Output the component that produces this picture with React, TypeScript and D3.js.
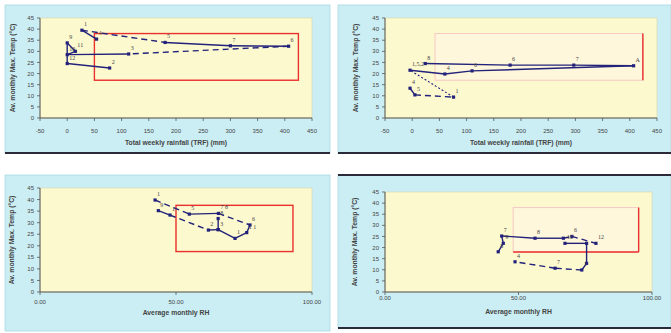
import React from "react";
import * as d3 from "d3";

// ---- data ----
const P1_X = [54, 27, 180, 300, 407, 113, 0, 15, 0, 0, 78];
const P1_Y = [35.5, 39.5, 34, 32.5, 32.3, 28.8, 28.5, 30, 33.8, 24.5, 22.5];
const P1_L = ["4", "1", "5", "7", "6", "3", "10", "11", "9", "12", "2"];
const P1_D = [0, 1, 0, 0, 1, 0, 0, 0, 0, 0];

const P2_X = [-4, 5, 76, -4, 60, 110, 407, 297, 180, 24];
const P2_Y = [13.4, 10.4, 9.4, 21.5, 19.8, 21.2, 23.5, 23.8, 23.8, 24.5];
const P2_L = ["4", "5", "1", "1,5,2", "4", "6", "A", "7", "6", "8"];
const P2_D = [0, 1, 2, 0, 0, 0, 0, 0, 0];

const P3A_X = [42.3, 54.9, 65.6, 77.2, 76, 71.7, 65.5, 65.5];
const P3A_Y = [39.8, 33.7, 34, 29, 25.7, 23.2, 27, 31.8];
const P3A_L = ["1", "5", "7 8", "6", "1 1", "1", "3", "8"];
const P3A_D = [1, 0, 1, 0, 0, 0, 0];
const P3B_X = [43.5, 47.8, 61.9, 65.5];
const P3B_Y = [35.2, 33.3, 26.8, 27];
const P3B_L = ["9", "1", "2", ""];
const P3B_D = [0, 1, 0];

const P4A_X = [42.4, 44.3, 43.7, 56.2, 66.8, 70, 79];
const P4A_Y = [18.1, 21.9, 25.2, 24.2, 24.2, 25, 21.9];
const P4A_L = ["8", "9", "7", "8", "", "6", "12"];
const P4A_D = [0, 0, 0, 0, 1, 1];
const P4B_X = [67.4, 75.5, 75.5, 73.7, 63.7, 48.7];
const P4B_Y = [21.9, 21.9, 12.9, 9.9, 10.7, 13.6];
const P4B_L = ["10", "", "", "1", "7", "4"];
const P4B_D = [0, 0, 0, 1, 1];

const RAIN_TICKS = [-50, 0, 50, 100, 150, 200, 250, 300, 350, 400, 450];
const RH_TICKS = [0, 50, 100];
const TEMP_TICKS = [0, 5, 10, 15, 20, 25, 30, 35, 40, 45];

const BOX1 = [50, 425, 17, 38];
const BOX2 = [42, 424, 17, 38];
const BOX3 = [50, 93, 17.5, 37.5];
const BOX4 = [48, 95, 18, 38];

const Y_TITLE = "Av. monthly Max. Temp (°C)";
const X_TITLE_RAIN = "Total weekly rainfall (TRF) (mm)";
const X_TITLE_RH = "Average monthly RH";

type Series = { x: number[]; y: number[]; l: string[]; d: number[] };

const CYAN = "#cbeef4";
const PLOT = "#fdf9cf";
const LINE = "#22227a";
const RED = "#e8302c";
const TXT = "#444";

type PanelProps = {
  outer: { x: number; y: number; w: number; h: number };
  plot: { x: number; y: number; w: number; h: number };
  xDomain: [number, number];
  xTicks: number[];
  xFmt: (v: number) => string;
  series: Series[];
  box: number[];
  boxMode: "full" | "right" | "rightBottom";
  xTitle: string;
  tickDy: number;
  titleDy: number;
  yTitleX: number;
  topLine?: boolean;
  bottomLine?: boolean;
};

function Panel(p: PanelProps) {
  const xs = d3.scaleLinear().domain(p.xDomain).range([p.plot.x, p.plot.x + p.plot.w]);
  const ys = d3.scaleLinear().domain([0, 45]).range([p.plot.y + p.plot.h, p.plot.y]);
  const line = d3
    .line<[number, number]>()
    .x((d) => xs(d[0]))
    .y((d) => ys(d[1]));
  const [bx0, bx1, by0, by1] = p.box;
  const bl = xs(bx0), br = xs(bx1), bt = ys(by1), bb = ys(by0);
  const ycenter = p.plot.y + p.plot.h / 2;
  return (
    <g>
      <rect x={p.outer.x} y={p.outer.y} width={p.outer.w} height={p.outer.h} fill={CYAN} stroke="#a8d8e0" strokeWidth={0.8} />
      {p.topLine && <line x1={p.outer.x} x2={p.outer.x + p.outer.w} y1={p.outer.y} y2={p.outer.y} stroke="#2a2a3a" strokeWidth={2} />}
      {p.bottomLine && (
        <line x1={p.outer.x} x2={p.outer.x + p.outer.w} y1={p.outer.y + p.outer.h} y2={p.outer.y + p.outer.h} stroke="#2a2a3a" strokeWidth={2} />
      )}
      <rect x={p.plot.x} y={p.plot.y} width={p.plot.w} height={p.plot.h} fill={PLOT} stroke="#d8d4a8" strokeWidth={0.6} />
      <line x1={p.plot.x} x2={p.plot.x} y1={p.plot.y} y2={p.plot.y + p.plot.h} stroke="#555" strokeWidth={1} />
      <line x1={p.plot.x} x2={p.plot.x + p.plot.w} y1={p.plot.y + p.plot.h} y2={p.plot.y + p.plot.h} stroke="#555" strokeWidth={1} />
      {TEMP_TICKS.map((t) => (
        <g key={"y" + t}>
          <line x1={p.plot.x - 3} x2={p.plot.x} y1={ys(t)} y2={ys(t)} stroke="#555" strokeWidth={0.8} />
          <text x={p.plot.x - 6} y={ys(t)} dy="0.35em" textAnchor="end" fontSize={6} fill={TXT} fontFamily="Arial, Liberation Sans, sans-serif">
            {t}
          </text>
        </g>
      ))}
      {p.xTicks.map((t) => (
        <g key={"x" + t}>
          <line x1={xs(t)} x2={xs(t)} y1={p.plot.y + p.plot.h} y2={p.plot.y + p.plot.h + 3} stroke="#555" strokeWidth={0.8} />
          <text x={xs(t)} y={p.plot.y + p.plot.h + p.tickDy} textAnchor="middle" fontSize={6} fill={TXT} fontFamily="Arial, Liberation Sans, sans-serif">
            {p.xFmt(t)}
          </text>
        </g>
      ))}
      <text
        x={p.plot.x + p.plot.w / 2}
        y={p.plot.y + p.plot.h + p.titleDy}
        textAnchor="middle"
        fontSize={6.8}
        fontWeight="bold"
        fill={TXT}
        fontFamily="Arial, Liberation Sans, sans-serif"
      >
        {p.xTitle}
      </text>
      <text
        transform={`translate(${p.yTitleX},${ycenter}) rotate(-90)`}
        textAnchor="middle"
        dy="0.35em"
        fontSize={6.8}
        fontWeight="bold"
        fill={TXT}
        fontFamily="Arial, Liberation Sans, sans-serif"
      >
        {Y_TITLE}
      </text>
      {p.boxMode === "full" ? (
        <rect x={bl} y={bt} width={br - bl} height={bb - bt} fill="none" stroke={RED} strokeWidth={1.4} />
      ) : (
        <g>
          <rect x={bl} y={bt} width={br - bl} height={bb - bt} fill="#fff4f0" fillOpacity={0.35} stroke="#f6c8c4" strokeWidth={1} />
          <line x1={br} x2={br} y1={bt} y2={bb} stroke={RED} strokeWidth={1.4} />
          {p.boxMode === "rightBottom" && <line x1={bl} x2={br} y1={bb} y2={bb} stroke={RED} strokeWidth={1.4} />}
        </g>
      )}
      {p.series.map((s, si) => {
        const pts: [number, number][] = s.x.map((v, i) => [v, s.y[i]]);
        return (
          <g key={"s" + si}>
            {s.d.map((dash, i) => (
              <path
                key={"seg" + i}
                d={line([pts[i], pts[i + 1]]) || ""}
                fill="none"
                stroke={LINE}
                strokeWidth={dash === 2 ? 1.1 : 1.4}
                strokeDasharray={dash === 1 ? "6,4" : dash === 2 ? "2,2" : undefined}
              />
            ))}
            {pts.map((pt, i) => (
              <g key={"p" + i}>
                <rect x={xs(pt[0]) - 1.6} y={ys(pt[1]) - 1.6} width={3.2} height={3.2} fill={LINE} />
                <text x={xs(pt[0]) + 2} y={ys(pt[1]) - 4} fontSize={6} fill={TXT} fontFamily="Times New Roman, Liberation Serif, serif">
                  {s.l[i]}
                </text>
              </g>
            ))}
          </g>
        );
      })}
    </g>
  );
}

const fmtInt = (v: number) => String(v);
const fmt2 = (v: number) => v.toFixed(2);

export default function App() {
  return (
    <svg width={671} height={333} style={{ position: "absolute", left: 0, top: 0, background: "#fff" }}>
      <Panel
        outer={{ x: 5, y: 5, w: 325, h: 148 }}
        plot={{ x: 40, y: 18, w: 272, h: 100 }}
        xDomain={[-50, 450]}
        xTicks={RAIN_TICKS}
        xFmt={fmtInt}
        series={[{ x: P1_X, y: P1_Y, l: P1_L, d: P1_D }]}
        box={BOX1}
        boxMode="full"
        xTitle={X_TITLE_RAIN}
        tickDy={15}
        titleDy={27}
        yTitleX={13}
        bottomLine
      />
      <Panel
        outer={{ x: 338, y: 5, w: 333, h: 148 }}
        plot={{ x: 385, y: 18, w: 272, h: 100 }}
        xDomain={[-50, 450]}
        xTicks={RAIN_TICKS}
        xFmt={fmtInt}
        series={[{ x: P2_X, y: P2_Y, l: P2_L, d: P2_D }]}
        box={BOX2}
        boxMode="right"
        xTitle={X_TITLE_RAIN}
        tickDy={15}
        titleDy={27}
        yTitleX={356}
        bottomLine
      />
      <Panel
        outer={{ x: 5, y: 175, w: 325, h: 156 }}
        plot={{ x: 40, y: 188, w: 272, h: 104 }}
        xDomain={[0, 100]}
        xTicks={RH_TICKS}
        xFmt={fmt2}
        series={[
          { x: P3A_X, y: P3A_Y, l: P3A_L, d: P3A_D },
          { x: P3B_X, y: P3B_Y, l: P3B_L, d: P3B_D },
        ]}
        box={BOX3}
        boxMode="full"
        xTitle={X_TITLE_RH}
        tickDy={12}
        titleDy={23}
        yTitleX={12}
      />
      <Panel
        outer={{ x: 338, y: 175, w: 333, h: 153 }}
        plot={{ x: 385, y: 192, w: 267, h: 100 }}
        xDomain={[0, 100]}
        xTicks={RH_TICKS}
        xFmt={fmt2}
        series={[
          { x: P4A_X, y: P4A_Y, l: P4A_L, d: P4A_D },
          { x: P4B_X, y: P4B_Y, l: P4B_L, d: P4B_D },
        ]}
        box={BOX4}
        boxMode="rightBottom"
        xTitle={X_TITLE_RH}
        tickDy={8}
        titleDy={22}
        yTitleX={355}
        topLine
        bottomLine
      />
    </svg>
  );
}
